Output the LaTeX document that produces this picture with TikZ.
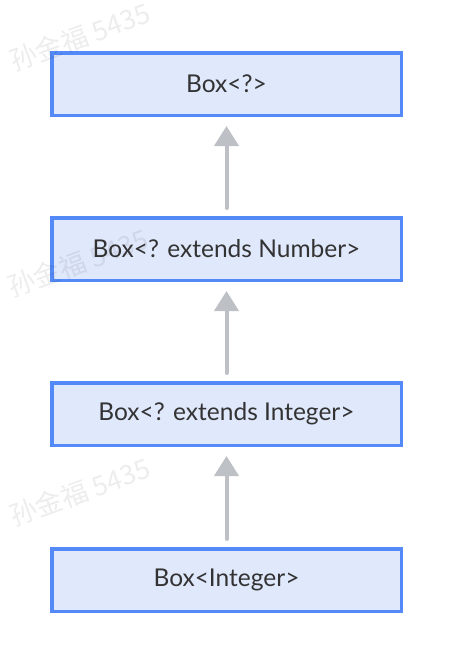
\documentclass[tikz,border=0pt]{standalone}
\usepackage{fontspec}
\setmainfont{Lato}
\newfontfamily\cjkmark{Noto Sans CJK SC}
\usetikzlibrary{arrows.meta, positioning}
\definecolor{boxblue}{RGB}{84, 138, 247}
\definecolor{boxfill}{RGB}{224, 232, 252}
\definecolor{arrowgray}{RGB}{189, 192, 197}
\definecolor{textdark}{RGB}{51, 51, 51}
\tikzset{
  typebox/.style={draw=boxblue, fill=boxfill, line width=3.5pt, minimum width=349.5pt,
    minimum height=62.5pt, inner sep=0pt, text=textdark, font=\fontsize{24.5}{28}\selectfont},
  subarrow/.style={draw=arrowgray, line width=4pt, line cap=round,
    -{Triangle[length=20pt, width=24pt]}, shorten <=8pt, shorten >=9pt},
  watermark/.style={text=black, text opacity=0.07, rotate=20, font=\cjkmark\fontsize{27}{30}\selectfont}
}
\begin{document}
\begin{tikzpicture}[x=1pt, y=-1pt]
  \useasboundingbox (0,0) rectangle (452,662);

  % type boxes
  \node[typebox] (wild) at (226.5,84) {Box<?>};
  \node[typebox] (number) at (226.5,249) {Box<? extends Number>};
  \node[typebox] (integer) at (226.5,414) {Box<? extends Integer>};
  \node[typebox] (concrete) at (226.5,580) {Box<Integer>};

  % subtype arrows
  \draw[subarrow] (number) -- (wild);
  \draw[subarrow] (integer) -- (number);
  \draw[subarrow] (concrete) -- (integer);

  % watermarks
  \node[watermark] (wm1) at (80,37) {孙金福 5435};
  \node[watermark] (wm2) at (78,263) {孙金福 5435};
  \node[watermark] (wm3) at (80,492) {孙金福 5435};
\end{tikzpicture}
\end{document}
